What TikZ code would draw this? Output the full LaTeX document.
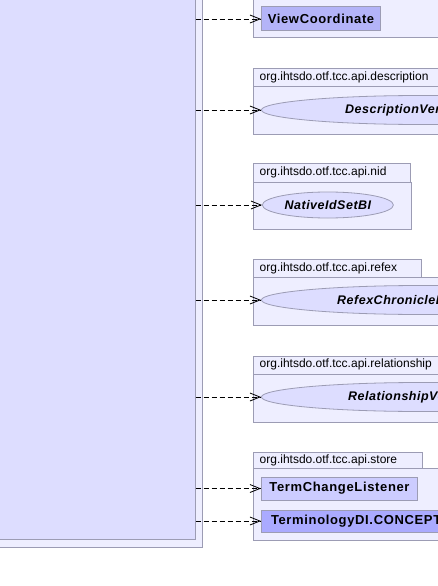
\documentclass[tikz,border=0pt]{standalone}
\usepackage{fontspec}
\setmainfont{Liberation Sans}
\usetikzlibrary{arrows.meta}
\definecolor{pkgfill}{HTML}{EEEEFF}
\definecolor{clsfill}{HTML}{DDDDFF}
\definecolor{bord}{HTML}{9C9CB4}
\definecolor{darkcls}{HTML}{B4B4F8}
\definecolor{lightcls}{HTML}{CCCCFF}
\definecolor{deepcls}{HTML}{AAAAFF}
\newfontfamily\clsfont[LetterSpace=5]{Liberation Sans Bold}
\newfontfamily\ellfont[LetterSpace=4]{Liberation Sans Bold Italic}
\tikzset{
  pkgbox/.style={draw=bord, fill=pkgfill, line width=1pt},
  pkglabel/.style={anchor=west, inner sep=0pt, font=\fontsize{12}{14}\selectfont},
  clsbox/.style={draw=bord, line width=1pt, inner sep=0pt, anchor=west,
    font=\clsfont\fontsize{13}{15}\selectfont},
  ellbox/.style={draw=bord, fill=clsfill, line width=0.8pt, ellipse, inner sep=0pt, anchor=west},
  elltext/.style={anchor=west, inner sep=0pt, font=\ellfont\fontsize{12.5}{15}\selectfont},
  dep/.style={dash pattern=on 5pt off 3pt, line width=0.8pt,
    -{Straight Barb[length=10pt, width=8pt, line width=0.8pt]}},
}
\usetikzlibrary{shapes.geometric}
\begin{document}
\begin{tikzpicture}[x=1pt, y=-1pt]
\useasboundingbox (0,0) rectangle (438,586);
\clip (0,0) rectangle (438,586);
\fill[white] (0,0) rectangle (438,586);
% left package and class
\node[pkgbox, minimum width=213, minimum height=570, anchor=south east, inner sep=0pt] (outer) at (203,548) {};
\node[draw=bord, fill=clsfill, line width=1pt, minimum width=205, minimum height=560, anchor=south east, inner sep=0pt] (cls) at (195.5,540) {};
% package 1
\node[pkgbox, minimum width=210, minimum height=58, anchor=south west, inner sep=0pt] (p1) at (253,38) {};
\node[clsbox, fill=darkcls, minimum width=119, minimum height=24] (vc) at (261,19) {ViewCoordinate};
% package 2
\node[pkgbox, minimum width=200, minimum height=17, anchor=north west, inner sep=0pt] (t2) at (253,68.5) {};
\node[pkglabel] (l2) at (259.5,77) {org.ihtsdo.otf.tcc.api.description};
\node[pkgbox, minimum width=210, minimum height=48, anchor=north west, inner sep=0pt] (p2) at (253,85.5) {};
\node[ellbox, minimum width=320, minimum height=29] (e2) at (261,110) {};
\node[elltext] (x2) at (345,110) {DescriptionVersionBI};
% package 3
\node[pkgbox, minimum width=157, minimum height=18.5, anchor=north west, inner sep=0pt] (t3) at (253,163.3) {};
\node[pkglabel] (l3) at (259.5,172.5) {org.ihtsdo.otf.tcc.api.nid};
\node[pkgbox, minimum width=158, minimum height=47.5, anchor=north west, inner sep=0pt] (p3) at (253,181.7) {};
\node[ellbox, minimum width=131, minimum height=26] (e3) at (262,205) {};
\node[elltext, anchor=center] (x3) at (e3.center) {NativeIdSetBI};
% package 4
\node[pkgbox, minimum width=168, minimum height=18.3, anchor=north west, inner sep=0pt] (t4) at (253,259) {};
\node[pkglabel] (l4) at (259.5,268.2) {org.ihtsdo.otf.tcc.api.refex};
\node[pkgbox, minimum width=210, minimum height=48, anchor=north west, inner sep=0pt] (p4) at (253,277.3) {};
\node[ellbox, minimum width=320, minimum height=29] (e4) at (261,300) {};
\node[elltext] (x4) at (337,300) {RefexChronicleBI};
% package 5
\node[pkgbox, minimum width=200, minimum height=18, anchor=north west, inner sep=0pt] (t5) at (253,355.5) {};
\node[pkglabel] (l5) at (259.5,364.5) {org.ihtsdo.otf.tcc.api.relationship};
\node[pkgbox, minimum width=210, minimum height=48, anchor=north west, inner sep=0pt] (p5) at (253,373.5) {};
\node[ellbox, minimum width=320, minimum height=29] (e5) at (261,397) {};
\node[elltext] (x5) at (348,397) {RelationshipVersionBI};
% package 6
\node[pkgbox, minimum width=169, minimum height=16.6, anchor=north west, inner sep=0pt] (t6) at (253,451.7) {};
\node[pkglabel] (l6) at (259.5,460) {org.ihtsdo.otf.tcc.api.store};
\node[pkgbox, minimum width=210, minimum height=72, anchor=north west, inner sep=0pt] (p6) at (253,468.3) {};
\node[clsbox, fill=lightcls, minimum width=156, minimum height=23] (tcl) at (261,488.5) {TermChangeListener};
\node[clsbox, fill=deepcls, minimum height=22] (tdi) at (261,521) {\makebox[200pt][l]{\hspace*{9.5pt}TerminologyDI.CONCEPT\_PATH}};
% dependencies
\foreach \t in {vc,e2,e3,e4,e5,tcl,tdi}{
  \draw[dep] (\t.west -| cls.east) -- (\t.west);
}
\end{tikzpicture}
\end{document}
